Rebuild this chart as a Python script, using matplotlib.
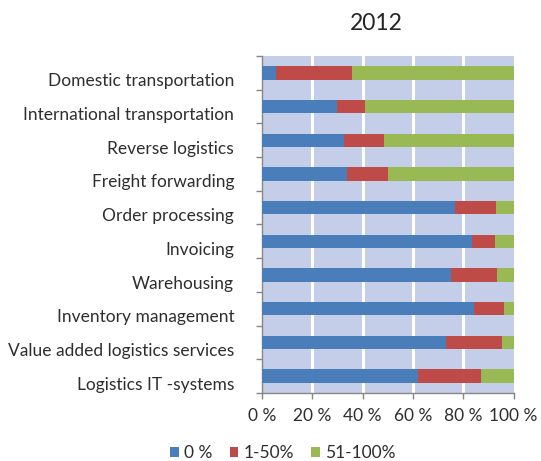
import matplotlib
matplotlib.use("Agg")
import matplotlib.pyplot as plt
import matplotlib.transforms as mtransforms
from matplotlib.patches import Patch
import numpy as np

plt.rcParams['font.family'] = ['Lato', 'DejaVu Sans']

title = "2012"
categories = [
    "Domestic transportation",
    "International transportation",
    "Reverse logistics",
    "Freight forwarding",
    "Order processing",
    "Invoicing",
    "Warehousing",
    "Inventory management",
    "Value added logistics services",
    "Logistics IT -systems",
]
share_0 = [5.7, 29.9, 32.7, 33.6, 76.8, 83.4, 75.2, 84.1, 73.1, 61.9]
share_1_50 = [30.2, 11.0, 15.9, 16.6, 16.3, 9.3, 18.2, 12.2, 22.5, 25.1]
share_51_100 = [64.1, 59.1, 51.4, 49.8, 6.9, 7.3, 6.6, 3.7, 4.4, 13.0]
series_labels = ["0 %", "1-50%", "51-100%"]
x_ticks = [0, 20, 40, 60, 80, 100]
x_tick_labels = ["0 %", "20 %", "40 %", "60 %", "80 %", "100 %"]

colors = ["#4a7ebb", "#be4b48", "#98b954"]
text_color = "#2e2e2e"
plot_bg = "#c5cee9"
axis_color = "#868686"

fig = plt.figure(figsize=(5.41, 4.61), dpi=100)
ax = fig.add_axes([262.0 / 541, 1 - 393.0 / 461, 251.5 / 541, 337.0 / 461])
ax.set_facecolor(plot_bg)

y = np.arange(len(categories))
left = np.zeros(len(categories))
for vals, col, lab in zip([share_0, share_1_50, share_51_100], colors, series_labels):
    vals = np.asarray(vals)
    ax.barh(y, vals, left=left, height=0.4, color=col, label=lab, zorder=3)
    left = left + vals

ax.set_xlim(0, 100)
ax.set_ylim(len(categories) - 0.5, -0.5)

# white vertical gridlines
for gx in x_ticks[1:-1]:
    ax.axvline(gx, color="white", lw=2.2, zorder=1)

ax.set_xticks(x_ticks)
ax.set_xticklabels(x_tick_labels, fontsize=12.5, color=text_color)
ax.set_yticks(y)
ax.set_yticklabels(categories, fontsize=12.5, color=text_color)
ax.set_yticks(np.arange(len(categories) + 1) - 0.5, minor=True)

ax.tick_params(axis="y", which="major", length=0, pad=20)
ax.tick_params(axis="y", which="minor", length=4, width=1, color=axis_color, direction="out")
ax.tick_params(axis="x", which="major", length=4.5, width=1, color=axis_color, direction="out", pad=6)

# category labels sit a little below their bars
offset = mtransforms.ScaledTranslation(0, -7 / 100, fig.dpi_scale_trans)
for lbl in ax.get_yticklabels():
    lbl.set_transform(lbl.get_transform() + offset)

for s in ["top", "right"]:
    ax.spines[s].set_visible(False)
for s in ["left", "bottom"]:
    ax.spines[s].set_color(axis_color)
    ax.spines[s].set_linewidth(1)

fig.text(376 / 541, 1 - 24 / 461, title, ha="center", va="center",
         fontsize=16.5, color="#262626")

handles = [Patch(facecolor=c, edgecolor="none") for c in colors]
fig.legend(handles, series_labels, loc="center", bbox_to_anchor=(283 / 541, 1 - 453 / 461),
           ncol=3, frameon=False, fontsize=12.5, labelcolor=text_color,
           handlelength=0.5, handleheight=0.5, handletextpad=0.3, columnspacing=1.0)

fig.savefig("out.png", dpi=100, facecolor="white")
